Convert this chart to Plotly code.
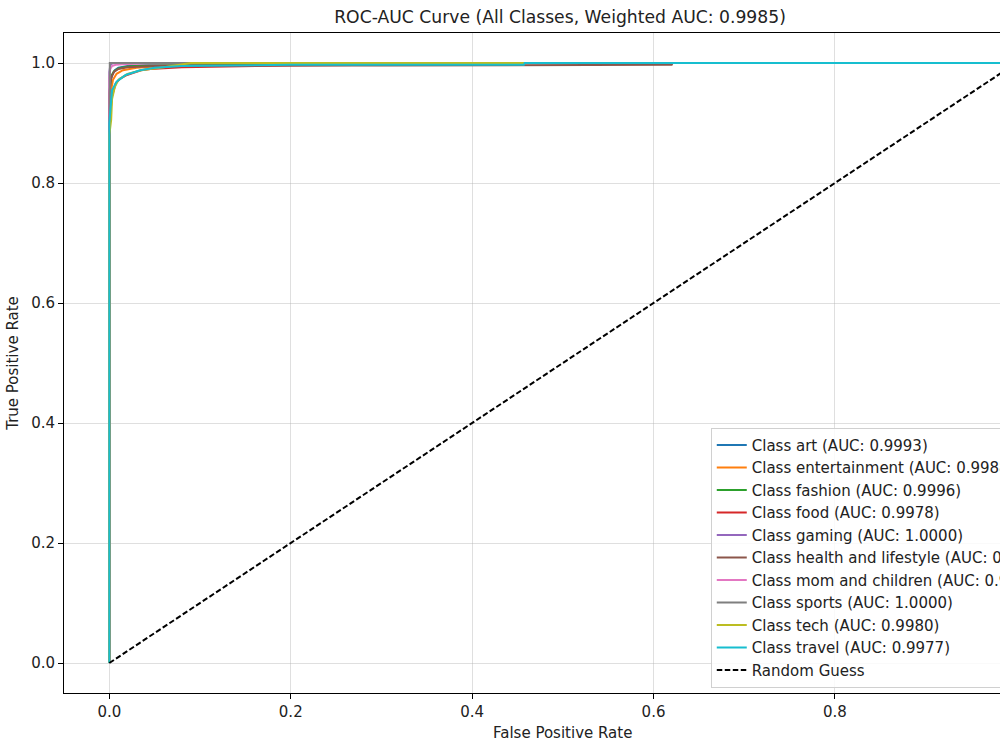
import plotly.graph_objects as go

# ---- data ----
class_names = ["art", "entertainment", "fashion", "food", "gaming",
               "health and lifestyle", "mom and children", "sports", "tech", "travel"]
class_auc = ["0.9993", "0.9988", "0.9996", "0.9978", "1.0000",
             "0.9990", "0.9997", "1.0000", "0.9980", "0.9977"]
weighted_auc = "0.9985"

fpr_art = [0, 0, 0.001, 0.003, 0.006, 0.01, 0.02, 0.05, 0.15, 0.35, 1.0]
tpr_art = [0, 0.94, 0.965, 0.98, 0.988, 0.992, 0.995, 0.997, 0.998, 1.0, 1.0]

fpr_entertainment = [0, 0, 0.002, 0.004, 0.008, 0.015, 0.03, 0.06, 0.2, 0.4, 1.0]
tpr_entertainment = [0, 0.92, 0.955, 0.972, 0.982, 0.988, 0.992, 0.995, 0.997, 1.0, 1.0]

fpr_fashion = [0, 0, 0.002, 0.005, 0.01, 0.02, 0.04, 0.1, 0.25, 1.0]
tpr_fashion = [0, 0.95, 0.978, 0.986, 0.991, 0.994, 0.996, 0.998, 1.0, 1.0]

fpr_food = [0, 0, 0.003, 0.007, 0.012, 0.018, 0.025, 0.035, 0.045, 0.08, 0.2, 0.305, 0.306, 1.0]
tpr_food = [0, 0.9, 0.945, 0.966, 0.974, 0.979, 0.983, 0.988, 0.99, 0.993, 0.996, 0.997, 1.0, 1.0]

fpr_gaming = [0, 0, 0.001, 0.003, 0.006, 1.0]
tpr_gaming = [0, 0.985, 0.996, 0.999, 1.0, 1.0]

fpr_health = [0, 0, 0.002, 0.005, 0.01, 0.02, 0.05, 0.12, 0.3, 0.62, 0.621, 1.0]
tpr_health = [0, 0.95, 0.975, 0.985, 0.99, 0.993, 0.995, 0.996, 0.996, 0.997, 1.0, 1.0]

fpr_mom = [0, 0, 0.001, 0.003, 0.007, 0.015, 0.04, 0.15, 1.0]
tpr_mom = [0, 0.975, 0.99, 0.995, 0.997, 0.998, 0.999, 1.0, 1.0]

fpr_sports = [0, 0, 0.0005, 1.0]
tpr_sports = [0, 0.99, 1.0, 1.0]

fpr_tech = [0, 0, 0.002, 0.003, 0.006, 0.01, 0.02, 0.035, 0.06, 0.09, 1.0]
tpr_tech = [0, 0.88, 0.905, 0.94, 0.96, 0.972, 0.982, 0.988, 0.993, 1.0, 1.0]

fpr_travel = [0, 0, 0.003, 0.008, 0.018, 0.034, 0.05, 0.08, 0.2, 0.457, 0.458, 1.0]
tpr_travel = [0, 0.9, 0.955, 0.969, 0.98, 0.988, 0.992, 0.995, 0.997, 0.997, 1.0, 1.0]

fpr_list = [fpr_art, fpr_entertainment, fpr_fashion, fpr_food, fpr_gaming,
            fpr_health, fpr_mom, fpr_sports, fpr_tech, fpr_travel]
tpr_list = [tpr_art, tpr_entertainment, tpr_fashion, tpr_food, tpr_gaming,
            tpr_health, tpr_mom, tpr_sports, tpr_tech, tpr_travel]

random_x = [0, 1]
random_y = [0, 1]

colors = ["#1f77b4", "#ff7f0e", "#2ca02c", "#d62728", "#9467bd",
          "#8c564b", "#e377c2", "#7f7f7f", "#bcbd22", "#17becf"]

FONT = "DejaVu Sans"
TXT = "#222222"
FS = 15

fig = go.Figure()
for name, auc, fx, ty, c in zip(class_names, class_auc, fpr_list, tpr_list, colors):
    fig.add_trace(go.Scatter(x=fx, y=ty, mode="lines",
                             line=dict(color=c, width=2),
                             name=f"Class {name} (AUC: {auc})"))
fig.add_trace(go.Scatter(x=random_x, y=random_y, mode="lines",
                         line=dict(color="black", width=2, dash="5.5px,2.5px"),
                         name="Random Guess"))

grid = "rgba(176,176,176,0.4)"
fig.update_layout(
    width=1000, height=750,
    margin=dict(l=64, r=0, t=33, b=57, autoexpand=False),
    paper_bgcolor="white", plot_bgcolor="white",
    font=dict(family=FONT, size=FS, color=TXT),
    title=dict(text=f"ROC-AUC Curve (All Classes, Weighted AUC: {weighted_auc})",
               x=0.56, xref="container", xanchor="center",
               y=0.977, yref="container", yanchor="middle",
               font=dict(family=FONT, size=17.2, color=TXT)),
    xaxis=dict(range=[-0.05, 0.982], tickvals=[0, 0.2, 0.4, 0.6, 0.8, 1.0],
               tickformat=".1f", showgrid=True, gridcolor=grid, gridwidth=1,
               zeroline=False, showline=True, linecolor="black", linewidth=1,
               mirror=True, ticks="outside", ticklen=5, tickcolor="black",
               tickfont=dict(size=FS)),
    yaxis=dict(range=[-0.05, 1.05], tickvals=[0, 0.2, 0.4, 0.6, 0.8, 1.0],
               tickformat=".1f", showgrid=True, gridcolor=grid, gridwidth=1,
               zeroline=False, showline=True, linecolor="black", linewidth=1,
               ticks="outside", ticklen=5, tickcolor="black",
               tickfont=dict(size=FS),
               title=dict(text="True Positive Rate", font=dict(size=FS), standoff=8)),
    legend=dict(x=0.691, xanchor="left", y=0.008, yanchor="bottom",
                bgcolor="rgba(255,255,255,0.85)", bordercolor="#d0d0d0", borderwidth=1,
                font=dict(family=FONT, size=FS, color=TXT), itemwidth=30),
    showlegend=True,
    annotations=[dict(text="False Positive Rate", xref="paper", yref="paper",
                      x=(562 - 64) / 936, y=-(733 - 693) / 660,
                      xanchor="center", yanchor="middle", showarrow=False,
                      font=dict(family=FONT, size=FS, color=TXT))],
)

fig.write_html("out.html")
